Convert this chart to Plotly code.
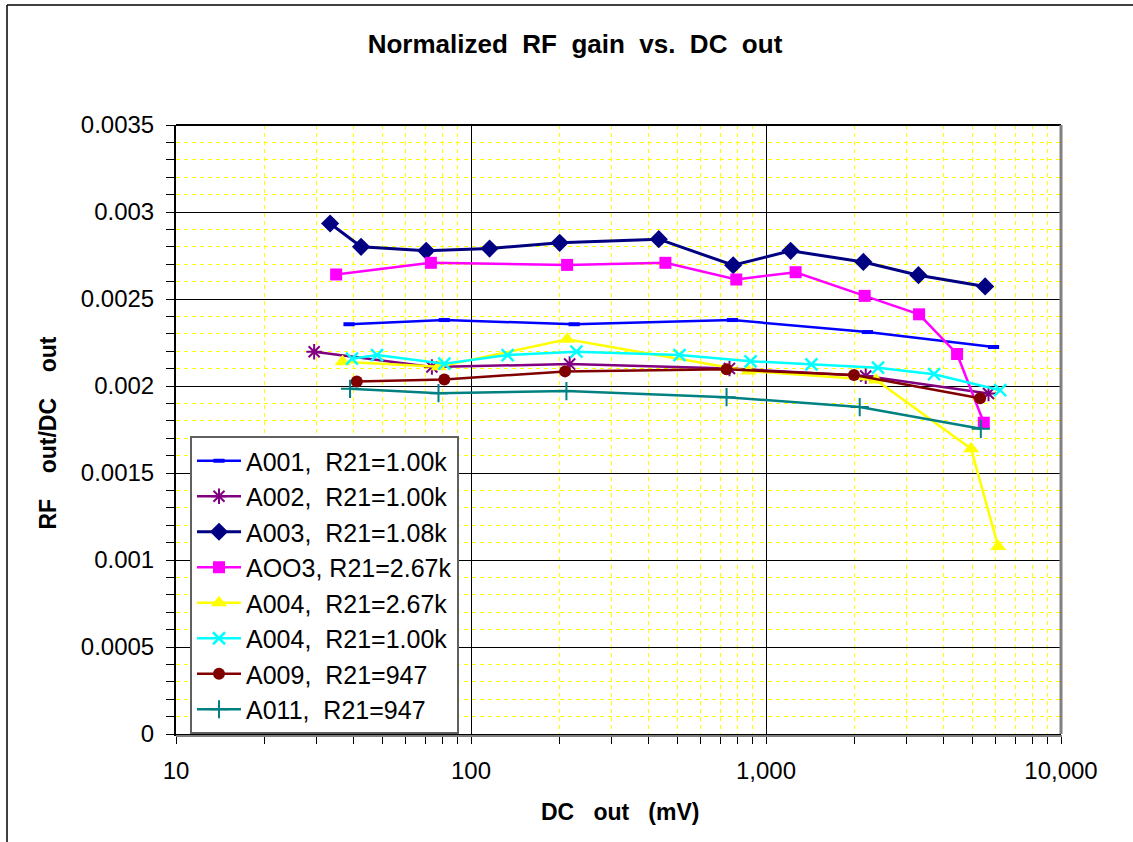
import plotly.graph_objects as go

# ---- data ----
a001_x = [38.6, 81.2, 223.7, 770, 2207, 5907]
a001_y = [0.002355, 0.002379, 0.002355, 0.002379, 0.002310, 0.002224]

a002_x = [29.4, 73.7, 216, 752, 2178, 5680]
a002_y = [0.002197, 0.002109, 0.002126, 0.002101, 0.002057, 0.001957]

a003_x = [33.3, 42.4, 70.5, 115.6, 199.8, 433, 774, 1212, 2138, 3287, 5531]
a003_y = [0.002934, 0.002800, 0.002777, 0.002790, 0.002823, 0.002844,
          0.002694, 0.002777, 0.002713, 0.002637, 0.002572]

aoo3_x = [34.9, 73.1, 211.7, 456, 793, 1260, 2160, 3303, 4444, 5474]
aoo3_y = [0.002641, 0.002708, 0.002696, 0.002708, 0.002612, 0.002654,
          0.002518, 0.002412, 0.002184, 0.001789]

a004b_x = [36.7, 77.6, 211.7, 871, 2360, 4958, 6124]
a004b_y = [0.002140, 0.002111, 0.002268, 0.002086, 0.002035, 0.001639, 0.001078]

a004a_x = [39.5, 48.0, 81.2, 133.1, 227.7, 509, 886.7, 1425, 2397, 3713, 6220]
a004a_y = [0.002157, 0.002178, 0.002128, 0.002178, 0.002197, 0.002178,
           0.002142, 0.002124, 0.002105, 0.002068, 0.001976]

a009_x = [41.0, 81.2, 208.4, 735, 1987, 5318]
a009_y = [0.002026, 0.002038, 0.002084, 0.002096, 0.002063, 0.001929]

a011_x = [38.9, 77.6, 210.6, 735, 2078, 5348]
a011_y = [0.001984, 0.001959, 0.001971, 0.001936, 0.001879, 0.001754]

x_tickvals = [10, 100, 1000, 10000]
x_ticktext = ["10", "100", "1,000", "10,000"]
y_tickvals = [0, 0.0005, 0.001, 0.0015, 0.002, 0.0025, 0.003, 0.0035]
y_ticktext = ["0", "0.0005", "0.001", "0.0015", "0.002", "0.0025", "0.003", "0.0035"]

FONT = "Liberation Sans, Arial, sans-serif"

series = [
    ("A001,  R21=1.00k", a001_x, a001_y, "#0000FF", dict(symbol="line-ew", size=8, line=dict(width=4, color="#0000FF"))),
    ("A002,  R21=1.00k", a002_x, a002_y, "#800080", dict(symbol="asterisk-open", size=13, line=dict(width=2, color="#800080"))),
    ("A003,  R21=1.08k", a003_x, a003_y, "#000080", dict(symbol="diamond", size=14, color="#000080")),
    ("AOO3, R21=2.67k", aoo3_x, aoo3_y, "#FF00FF", dict(symbol="square", size=12, color="#FF00FF")),
    ("A004,  R21=2.67k", a004b_x, a004b_y, "#FFFF00", dict(symbol="triangle-up", size=14, color="#FFFF00")),
    ("A004,  R21=1.00k", a004a_x, a004a_y, "#00FFFF", dict(symbol="x-thin-open", size=12, line=dict(width=2.5, color="#00FFFF"))),
    ("A009,  R21=947", a009_x, a009_y, "#800000", dict(symbol="circle", size=12, color="#800000")),
    ("A011,  R21=947", a011_x, a011_y, "#008080", dict(symbol="cross-thin-open", size=13, line=dict(width=2, color="#008080"))),
]

fig = go.Figure()
for i, (name, xs, ys, col, mk) in enumerate(series):
    fig.add_trace(go.Scatter(
        x=xs, y=ys, name=name, mode="lines+markers",
        line=dict(color=col, width=2.5 if col != "#000080" else 3),
        marker=mk, legendgroup=f"g{i}",
    ))

L, R, T, B = 176, 1061, 125, 734
W, H = 1133, 842

fig.update_layout(
    width=W, height=H,
    margin=dict(l=L, r=W - R, t=T, b=H - B, pad=0),
    paper_bgcolor="white", plot_bgcolor="white",
    font=dict(family=FONT, color="black"),
    title=dict(text="<b>Normalized  RF  gain  vs.  DC  out</b>",
               x=575 / W, xanchor="center", y=1 - 44 / H, yanchor="middle",
               font=dict(size=26, family=FONT, color="black")),
    showlegend=True,
    legend=dict(x=(190 - L) / (R - L), xanchor="left", y=(B - 436) / (B - T), yanchor="top",
                bgcolor="white", bordercolor="#606060", borderwidth=2,
                font=dict(size=25, family=FONT, color="black"),
                tracegroupgap=0, itemwidth=44),
)

fig.update_xaxes(
    type="log", range=[1, 4],
    tickmode="array", tickvals=x_tickvals, ticktext=x_ticktext,
    tickfont=dict(size=24, family=FONT, color="black"),
    ticks="outside", ticklen=8, tickcolor="black", tickwidth=1,
    ticklabelstandoff=6,
    showgrid=True, gridcolor="black", gridwidth=1,
    showline=True, linecolor="black", linewidth=2, mirror=False,
    zeroline=False,
    minor=dict(dtick="D1", showgrid=True, gridcolor="#FFFF00", griddash="4px,4px",
               gridwidth=1, ticks="outside", ticklen=8, tickcolor="black"),
)

fig.update_yaxes(
    range=[0, 0.0035],
    tickmode="array", tickvals=y_tickvals, ticktext=y_ticktext,
    tickfont=dict(size=24, family=FONT, color="black"),
    ticks="outside", ticklen=8, tickcolor="black", tickwidth=1,
    ticklabelstandoff=7,
    showgrid=True, gridcolor="black", gridwidth=1,
    showline=True, linecolor="black", linewidth=2, mirror=False,
    zeroline=False,
    minor=dict(dtick=0.0001, showgrid=True, gridcolor="#FFFF00", griddash="4px,4px",
               gridwidth=1, ticks="outside", ticklen=8, tickcolor="black"),
)

# axis titles
fig.add_annotation(text="<b>DC   out   (mV)</b>", xref="paper", yref="paper",
                   x=(619.5 - L) / (R - L), y=-(812 - B) / (B - T),
                   xanchor="center", yanchor="middle", showarrow=False,
                   font=dict(size=23, family=FONT, color="black"))
fig.add_annotation(text="<b>RF    out/DC    out</b>", xref="paper", yref="paper",
                   x=-(L - 47.5) / (R - L), y=(B - 433) / (B - T), textangle=-90,
                   xanchor="center", yanchor="middle", showarrow=False,
                   font=dict(size=23, family=FONT, color="black"))

# plot-area frame: black top, gray shadow right and bottom
fig.add_shape(type="line", xref="paper", yref="paper", x0=0, x1=1, y0=1, y1=1,
              line=dict(color="black", width=2))
fig.add_shape(type="line", xref="paper", yref="paper", x0=1, x1=1, y0=0, y1=1,
              line=dict(color="#808080", width=3))
fig.add_shape(type="line", xref="paper", yref="paper", x0=0, x1=1 + 1 / (R - L),
              y0=-2 / (B - T), y1=-2 / (B - T),
              line=dict(color="#808080", width=2))
# outer chart border (left and top)
fig.add_shape(type="line", xref="paper", yref="paper",
              x0=-(L - 7) / (R - L), x1=-(L - 7) / (R - L), y0=-(H - B) / (B - T), y1=(B - 5) / (B - T),
              line=dict(color="black", width=1.5))
fig.add_shape(type="line", xref="paper", yref="paper",
              x0=-(L - 7) / (R - L), x1=(W - L) / (R - L), y0=(B - 5) / (B - T), y1=(B - 5) / (B - T),
              line=dict(color="black", width=1.5))

fig.write_html("out.html", config={"displayModeBar": False},
               post_script="document.body.style.margin='0';")
